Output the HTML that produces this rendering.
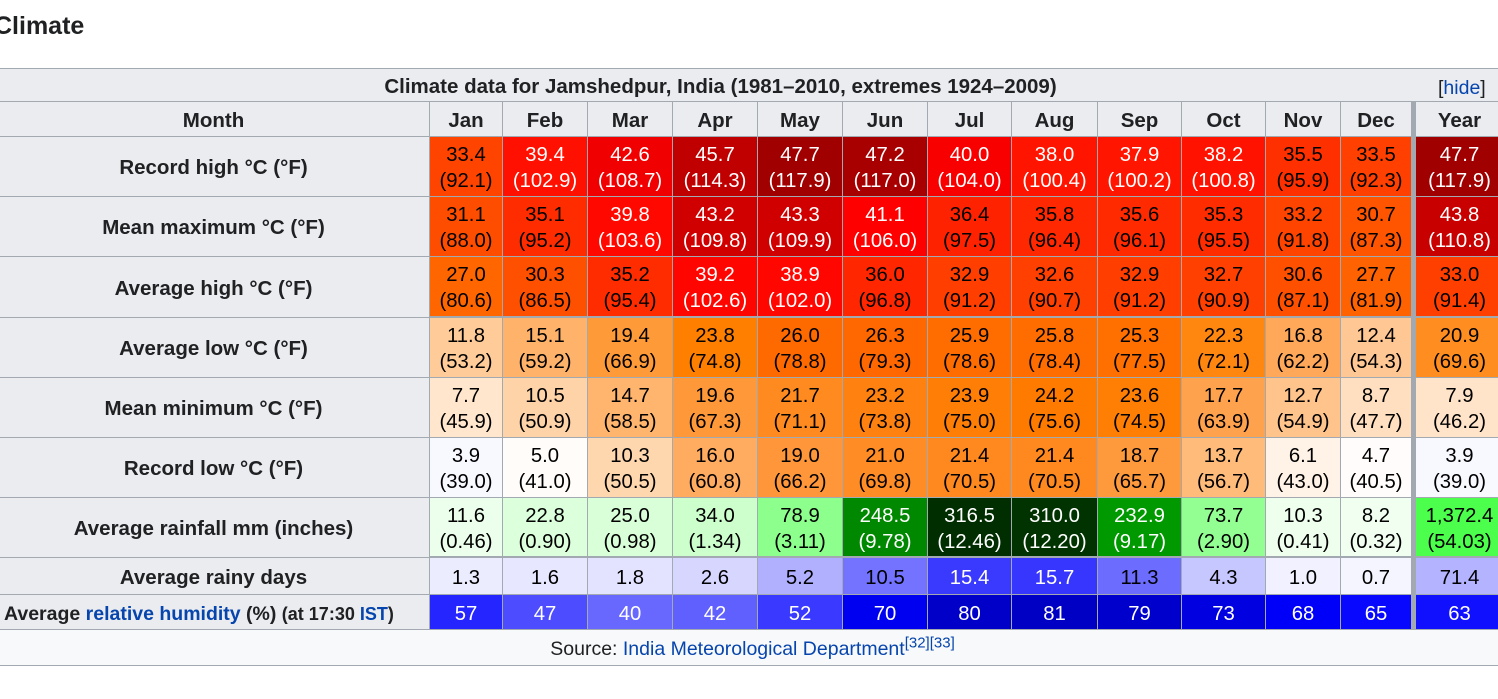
<!DOCTYPE html>
<html><head><meta charset="utf-8">
<style>
body{margin:0;width:1498px;height:699px;overflow:hidden;background:#fff;font-family:"Liberation Sans",Arial,sans-serif;color:#202122;position:relative}
.c{position:absolute;box-sizing:border-box;display:flex;align-items:center;justify-content:center;text-align:center;font-size:20.3px;line-height:26px;padding-top:3px;border-right:1px solid #a2a9b1;border-bottom:1px solid #a2a9b1}
.h{background:#eaecf0;font-weight:bold;font-size:20.5px}
a{color:#0645ad;text-decoration:none}
</style></head><body>
<div style="position:absolute;left:-6px;top:12px;font-size:25px;font-weight:bold">Climate</div>
<div id="t"></div>
<script>
const months=["Jan","Feb","Mar","Apr","May","Jun","Jul","Aug","Sep","Oct","Nov","Dec","Year"];
const rowLabels=["Record high °C (°F)","Mean maximum °C (°F)","Average high °C (°F)","Average low °C (°F)","Mean minimum °C (°F)","Record low °C (°F)","Average rainfall mm (inches)","Average rainy days"];
const recHigh=[["33.4","92.1"],["39.4","102.9"],["42.6","108.7"],["45.7","114.3"],["47.7","117.9"],["47.2","117.0"],["40.0","104.0"],["38.0","100.4"],["37.9","100.2"],["38.2","100.8"],["35.5","95.9"],["33.5","92.3"],["47.7","117.9"]];
const meanMax=[["31.1","88.0"],["35.1","95.2"],["39.8","103.6"],["43.2","109.8"],["43.3","109.9"],["41.1","106.0"],["36.4","97.5"],["35.8","96.4"],["35.6","96.1"],["35.3","95.5"],["33.2","91.8"],["30.7","87.3"],["43.8","110.8"]];
const avgHigh=[["27.0","80.6"],["30.3","86.5"],["35.2","95.4"],["39.2","102.6"],["38.9","102.0"],["36.0","96.8"],["32.9","91.2"],["32.6","90.7"],["32.9","91.2"],["32.7","90.9"],["30.6","87.1"],["27.7","81.9"],["33.0","91.4"]];
const avgLow=[["11.8","53.2"],["15.1","59.2"],["19.4","66.9"],["23.8","74.8"],["26.0","78.8"],["26.3","79.3"],["25.9","78.6"],["25.8","78.4"],["25.3","77.5"],["22.3","72.1"],["16.8","62.2"],["12.4","54.3"],["20.9","69.6"]];
const meanMin=[["7.7","45.9"],["10.5","50.9"],["14.7","58.5"],["19.6","67.3"],["21.7","71.1"],["23.2","73.8"],["23.9","75.0"],["24.2","75.6"],["23.6","74.5"],["17.7","63.9"],["12.7","54.9"],["8.7","47.7"],["7.9","46.2"]];
const recLow=[["3.9","39.0"],["5.0","41.0"],["10.3","50.5"],["16.0","60.8"],["19.0","66.2"],["21.0","69.8"],["21.4","70.5"],["21.4","70.5"],["18.7","65.7"],["13.7","56.7"],["6.1","43.0"],["4.7","40.5"],["3.9","39.0"]];
const rain=[["11.6","0.46"],["22.8","0.90"],["25.0","0.98"],["34.0","1.34"],["78.9","3.11"],["248.5","9.78"],["316.5","12.46"],["310.0","12.20"],["232.9","9.17"],["73.7","2.90"],["10.3","0.41"],["8.2","0.32"],["1,372.4","54.03"]];
const rainyDays=["1.3","1.6","1.8","2.6","5.2","10.5","15.4","15.7","11.3","4.3","1.0","0.7","71.4"];
const humidity=["57","47","40","42","52","70","80","81","79","73","68","65","63"];
const colors=[
["#ff4400","#ff1000","#f00000","#c00000","#a00000","#a80000","#f80000","#ff1400","#ff1500","#ff1200","#ff3000","#ff4000","#a00000"],
["#ff4d00","#ff2c00","#ff0800","#d00000","#d00000","#ff0000","#ff2200","#ff2800","#ff2a00","#ff2c00","#ff4400","#ff5500","#c80000"],
["#ff6600","#ff5000","#ff2c00","#ff0500","#ff0700","#ff2600","#ff3e00","#ff4000","#ff3e00","#ff4000","#ff5000","#ff6200","#ff3f00"],
["#ffcc99","#ffb36a","#ff9a38","#ff7f00","#ff6a00","#ff6800","#ff6c00","#ff6d00","#ff7000","#ff8710","#ffa85a","#ffc793","#ff8d20"],
["#ffe6cc","#ffd3a8","#ffb56e","#ff9838","#ff8b20","#ff8210","#ff7e05","#ff7b00","#ff7f05","#ffa24e","#ffc48c","#ffdfbf","#ffe4c9"],
["#f8f8ff","#fffcfa","#ffd7ae","#ffab60","#ff973a","#ff8c24","#ff891f","#ff891f","#ff9a3c","#ffbb7a","#fff2e6","#fffcfb","#f8f8ff"],
["#ecffec","#dcffdc","#d9ffd9","#ccffcc","#8cff8c","#008900","#002e00","#003300","#009900","#93ff93","#eeffee","#f1fff1","#4cff4c"],
["#ececff","#e7e7ff","#e3e3ff","#d6d6ff","#b0b0ff","#7373ff","#3a3aff","#3636ff","#6c6cff","#c7c7ff","#f1f1ff","#f5f5ff","#b3b3ff"],
["#2525ff","#4d4dff","#6868ff","#6060ff","#3939ff","#0000f0","#0000c8","#0000c5","#0000cc","#0000e0","#0000f8","#0808ff","#1010ff"]];
const colX=[430,503,588,673,758,843,928,1012,1098,1182,1266,1341,1416,1504];
const rowY=[137,197,257,318,378,438,498,558,595,630];
const T=document.getElementById('t');
function cell(x,y,w,h,html,cls,bg,fg,name,inter){
  const d=document.createElement('div');
  d.className='c '+(cls||'');
  d.style.left=x+'px';d.style.top=y+'px';d.style.width=w+'px';d.style.height=h+'px';
  if(bg)d.style.background=bg;
  if(fg)d.style.color=fg;
  d.innerHTML=html;
  
  
  T.appendChild(d);return d;
}
function lum(c){const r=parseInt(c.substr(1,2),16),g=parseInt(c.substr(3,2),16),b=parseInt(c.substr(5,2),16);return 0.299*r+0.587*g+0.114*b;}
const tt=cell(-2,68,1510,34,'<span>Climate data for Jamshedpur, India (1981–2010, extremes 1924–2009)</span>','h',null,null,'table-title',false);
tt.style.borderTop='1px solid #a2a9b1';
tt.style.paddingRight='64px';
tt.style.fontSize='20.5px';
const hide=document.createElement('a');
hide.textContent='hide';


const hs=document.createElement('span');
hs.style.cssText='position:absolute;left:1440px;top:6px;font-weight:normal;font-size:19.5px';


hs.append('[',hide,']');tt.appendChild(hs);
cell(-2,102,432,35,'Month','h',null,null,'month-header',false);
months.forEach((m,i)=>{cell(colX[i],102,colX[i+1]-colX[i]-(i==11?4:0),35,m,'h',null,null,'header-'+m.toLowerCase(),false);});
const data=[recHigh,meanMax,avgHigh,avgLow,meanMin,recLow,rain];
for(let r=0;r<9;r++){
  const y=rowY[r],h=rowY[r+1]-y;
  let lab=r<8?rowLabels[r]:'<span style="white-space:nowrap">Average <a>relative humidity</a> (%) <span style="font-size:18px">(at 17:30 <a>IST</a>)</span></span>';
  const lc=cell(-2,y,432,h,lab,'h',null,null,'row-label-'+r,false);
  if(r==8){lc.style.fontSize='19.5px';lc.style.justifyContent='flex-start';lc.style.paddingLeft='6px';}
  for(let i=0;i<13;i++){
    const bg=colors[r][i];
    const fg=(r==8||lum(bg)<92)?'#fff':'#000';
    let txt;
    if(r<7)txt=data[r][i][0]+'<br>('+data[r][i][1]+')';
    else if(r==7)txt=rainyDays[i];else txt=humidity[i];
    const c=cell(colX[i],y,colX[i+1]-colX[i]-(i==11?4:0),h,txt,'',bg,fg,'cell-r'+r+'-'+months[i].toLowerCase(),false);
    if(r==2||r==6)c.style.borderBottomWidth='2px';
  }
}
const sep=document.createElement('div');
sep.style.cssText='position:absolute;left:1412px;top:102px;width:4px;height:528px;background:#a2a9b1';


T.appendChild(sep);
const src=cell(-2,630,1510,36,'<span>Source: <a>India Meteorological Department</a><sup style="font-size:15px;line-height:0;color:#0645ad">[32][33]</sup></span>','',"#f8f9fa",null,'source-row',false);
src.style.fontSize='19.5px';
</script>
</body></html>
